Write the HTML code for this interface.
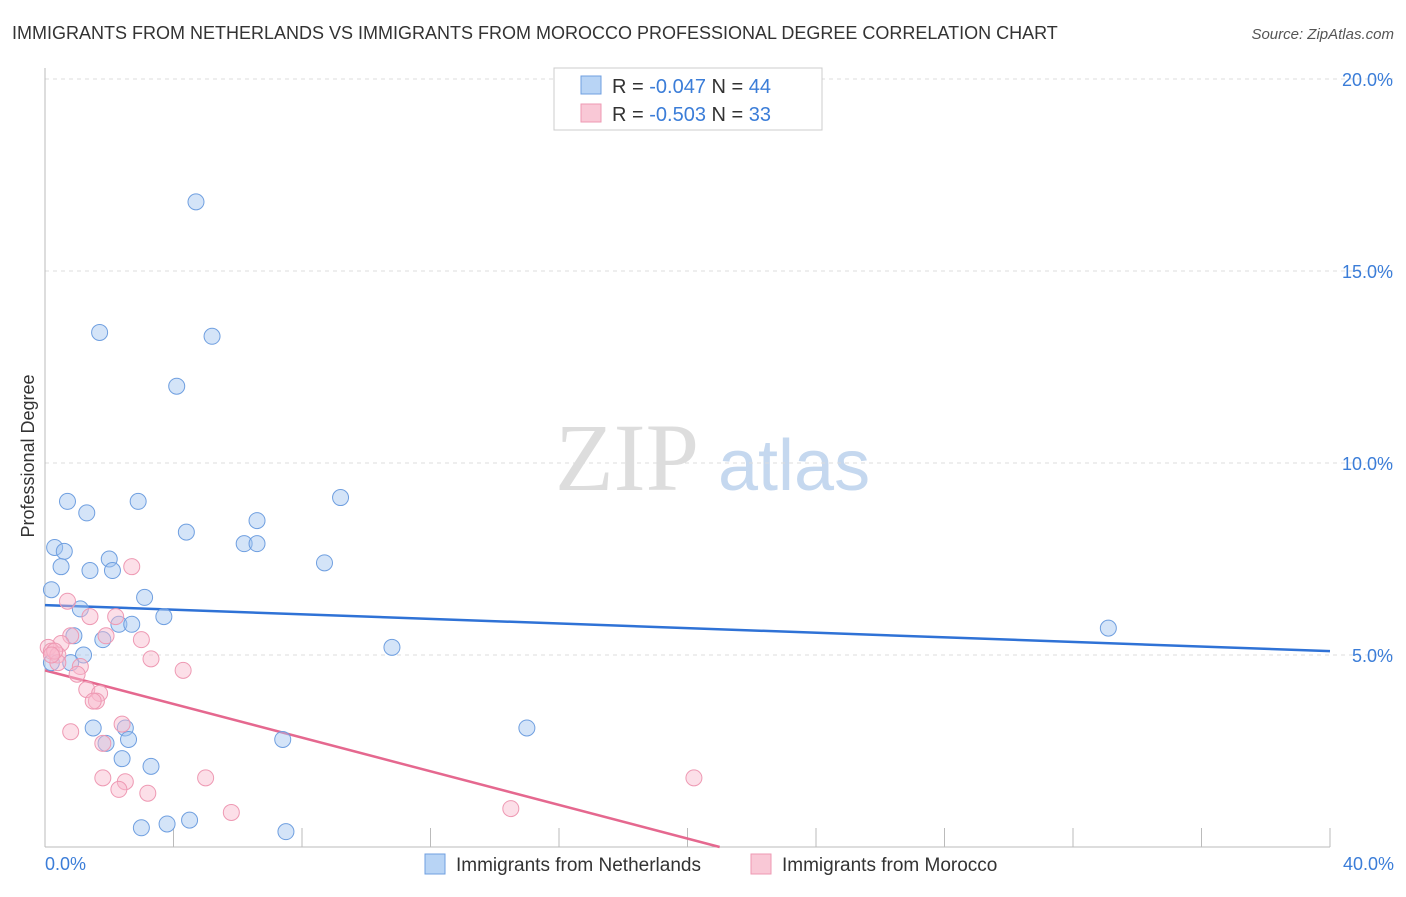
<!DOCTYPE html>
<html><head><meta charset="utf-8"><style>
body{margin:0;background:#fff;font-family:"Liberation Sans",sans-serif;}
</style></head><body>
<svg width="1406" height="892" xmlns="http://www.w3.org/2000/svg" font-family="Liberation Sans, sans-serif">
<text x="12" y="39" font-size="18" fill="#333">IMMIGRANTS FROM NETHERLANDS VS IMMIGRANTS FROM MOROCCO PROFESSIONAL DEGREE CORRELATION CHART</text>
<text x="1394" y="39" font-size="15" fill="#555" font-style="italic" text-anchor="end">Source: ZipAtlas.com</text>
<text x="555" y="490" font-size="96" fill="#ddd" font-family="Liberation Serif, serif">ZIP</text>
<text x="718" y="490" font-size="72" fill="#c5d8ef">atlas</text>
<g id="grid"></g>
<line x1="45" y1="68" x2="45" y2="847" stroke="#bbb"/>
<line x1="45" y1="847" x2="1330" y2="847" stroke="#bbb"/>
<text x="34" y="456" font-size="18" fill="#333" text-anchor="middle" transform="rotate(-90 34 456)">Professional Degree</text>
<text x="45" y="870" font-size="18" fill="#3b7dd8">0.0%</text>
<text x="1394" y="870" font-size="18" fill="#3b7dd8" text-anchor="end">40.0%</text>
<g id="lines"></g>
<g id="pts"></g>
<g>
<rect x="554" y="68" width="268" height="62" fill="#fff" stroke="#ccc"/>
<rect x="581" y="76" width="20" height="18" fill="#b8d4f5" stroke="#6f9fe0"/>
<rect x="581" y="104" width="20" height="18" fill="#f9c8d6" stroke="#ee99b3"/>
<text x="612" y="93" font-size="20" fill="#333">R = <tspan fill="#3b7dd8">-0.047</tspan>   N = <tspan fill="#3b7dd8">44</tspan></text>
<text x="612" y="121" font-size="20" fill="#333">R = <tspan fill="#3b7dd8">-0.503</tspan>   N = <tspan fill="#3b7dd8">33</tspan></text>
</g>
<g>
<rect x="425" y="854" width="20" height="20" fill="#b8d4f5" stroke="#6f9fe0"/>
<text x="456" y="871" font-size="19" fill="#333">Immigrants from Netherlands</text>
<rect x="751" y="854" width="20" height="20" fill="#f9c8d6" stroke="#ee99b3"/>
<text x="782" y="871" font-size="19" fill="#333">Immigrants from Morocco</text>
</g>
</svg>
<script>
const yTicks=[5,10,15,20];
const yTickLabels=["5.0%","10.0%","15.0%","20.0%"];
const blueX=[4.7,1.7,5.2,4.1,0.7,2.9,9.2,1.3,4.4,6.6,6.2,6.6,0.3,0.6,0.5,1.4,2.0,2.1,0.2,8.7,3.1,1.1,3.7,2.3,2.7,1.8,0.9,1.2,10.8,33.1,0.8,0.2,1.5,2.5,2.6,1.9,7.4,15.0,2.4,3.3,3.0,3.8,4.5,7.5];
const blueY=[16.8,13.4,13.3,12.0,9.0,9.0,9.1,8.7,8.2,8.5,7.9,7.9,7.8,7.7,7.3,7.2,7.5,7.2,6.7,7.4,6.5,6.2,6.0,5.8,5.8,5.4,5.5,5.0,5.2,5.7,4.8,4.8,3.1,3.1,2.8,2.7,2.8,3.1,2.3,2.1,0.5,0.6,0.7,0.4];
const pinkX=[0.7,2.7,1.4,2.2,3.0,1.9,0.8,0.5,0.1,0.2,0.4,0.4,1.1,3.3,4.3,1.0,1.3,1.7,1.6,1.5,2.4,0.8,1.8,1.8,2.5,2.3,3.2,5.0,5.8,14.5,20.2,0.3,0.2];
const pinkY=[6.4,7.3,6.0,6.0,5.4,5.5,5.5,5.3,5.2,5.1,5.0,4.8,4.7,4.9,4.6,4.5,4.1,4.0,3.8,3.8,3.2,3.0,2.7,1.8,1.7,1.5,1.4,1.8,0.9,1.0,1.8,5.1,5.0];
const trendBlue=[6.3,5.1];
const trendPink=[4.6,0];const trendPinkEnd=[0,21];
const X=v=>45+v*32.125, Y=v=>847-v*38.4;
const ns="http://www.w3.org/2000/svg";
function mk(t,a,p){const e=document.createElementNS(ns,t);for(const k in a)e.setAttribute(k,a[k]);p.appendChild(e);return e;}
const grid=document.getElementById('grid');
yTicks.forEach((t,i)=>{
 const l=mk('line',{x1:45,x2:1394,y1:Y(t),y2:Y(t),stroke:'#ddd','stroke-dasharray':'4,4'},grid);
 
 
 const tx=mk('text',{x:1393,y:Y(t)-7+14,'font-size':18,fill:'#3b7dd8','text-anchor':'end'},grid);
 tx.textContent=yTickLabels[i];
 
 
});
for(let i=1;i<=10;i++){const l=mk('line',{x1:X(i*4),x2:X(i*4),y1:828,y2:847,stroke:'#bbb'},grid);
 
 }
const pts=document.getElementById('pts');
blueX.forEach((x,i)=>{const c=mk('circle',{cx:X(x),cy:Y(blueY[i]),r:8,fill:'rgba(160,195,240,0.45)',stroke:'#6f9fe0','stroke-width':1},pts);
 
 });
pinkX.forEach((x,i)=>{const c=mk('circle',{cx:X(x),cy:Y(pinkY[i]),r:8,fill:'rgba(248,185,205,0.45)',stroke:'#ee99b3','stroke-width':1},pts);
 
 });
const lines=document.getElementById('lines');
const b=mk('line',{x1:X(0),y1:Y(trendBlue[0]),x2:X(40),y2:Y(trendBlue[1]),stroke:'#2f72d6','stroke-width':2.5},lines);


const p=mk('line',{x1:X(trendPinkEnd[0]),y1:Y(trendPink[0]),x2:X(trendPinkEnd[1]),y2:Y(trendPink[1]),stroke:'#e5688f','stroke-width':2.5},lines);


</script>
</body></html>
